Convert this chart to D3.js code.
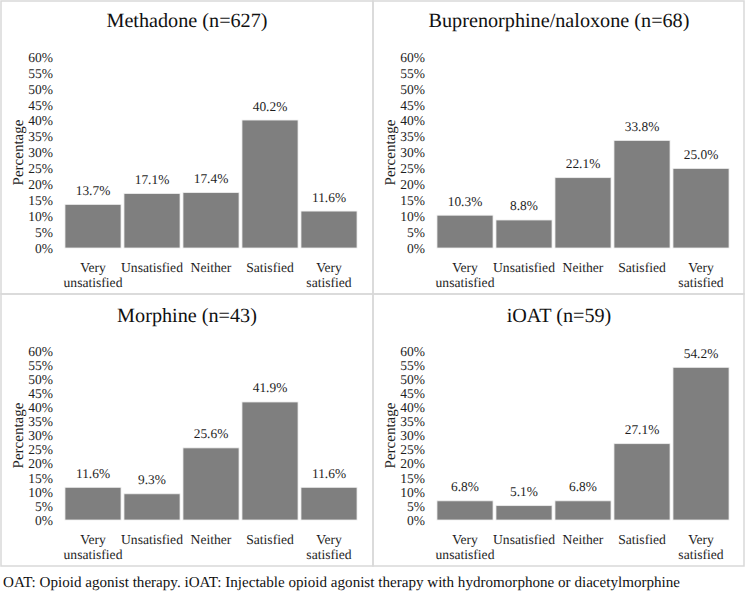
<!DOCTYPE html>
<html>
<head>
<meta charset="utf-8">
<script src="https://cdn.jsdelivr.net/npm/d3@7"></script>
<style>
  html, body { margin: 0; padding: 0; background: #fff; }
  svg { display: block; }
  svg text { text-rendering: geometricPrecision; }
</style>
</head>
<body>
<svg id="chart" width="747" height="591"></svg>
<script>
// ---- Data ----
const categories = ["Very unsatisfied", "Unsatisfied", "Neither", "Satisfied", "Very satisfied"];
const categoryLines = [["Very", "unsatisfied"], ["Unsatisfied"], ["Neither"], ["Satisfied"], ["Very", "satisfied"]];
const panelTitles = ["Methadone (n=627)", "Buprenorphine/naloxone (n=68)", "Morphine (n=43)", "iOAT (n=59)"];
const methadone = [13.7, 17.1, 17.4, 40.2, 11.6];
const buprenorphine = [10.3, 8.8, 22.1, 33.8, 25.0];
const morphine = [11.6, 9.3, 25.6, 41.9, 11.6];
const ioat = [6.8, 5.1, 6.8, 27.1, 54.2];
const yTicks = [0, 5, 10, 15, 20, 25, 30, 35, 40, 45, 50, 55, 60];
const yTitle = "Percentage";
const footnote = "OAT: Opioid agonist therapy. iOAT: Injectable opioid agonist therapy with hydromorphone or diacetylmorphine";

// ---- Layout ----
const FONT = '"Liberation Serif"';
const svg = d3.select("#chart");
const textColor = "#1e1e1e";
const barColor = "#7f7f7f";
const borderColor = "#d9d9d9";

const panels = [
  { title: panelTitles[0], values: methadone,     x: 1,   y: 1,   w: 372, h: 293, plotTop: 56, plotH: 191, titleY: 26 },
  { title: panelTitles[1], values: buprenorphine, x: 373, y: 1,   w: 371, h: 293, plotTop: 56, plotH: 191, titleY: 26 },
  { title: panelTitles[2], values: morphine,      x: 1,   y: 294, w: 372, h: 272, plotTop: 57, plotH: 169, titleY: 28 },
  { title: panelTitles[3], values: ioat,          x: 373, y: 294, w: 371, h: 272, plotTop: 57, plotH: 169, titleY: 28 }
];

panels.forEach(p => {
  const g = svg.append("g").attr("transform", `translate(${p.x},${p.y})`);

  g.append("rect")
    .attr("x", 0).attr("y", 0).attr("width", p.w).attr("height", p.h)
    .attr("fill", "none").attr("stroke", borderColor).attr("stroke-width", 1.5);

  g.append("text")
    .attr("x", 186).attr("y", p.titleY)
    .attr("text-anchor", "middle")
    .style("font-family", FONT).style("font-size", "20.2px").attr("fill", "#111")
    .text(p.title);

  const plotLeft = 62.5, plotW = 295;
  const plot = g.append("g").attr("transform", `translate(${plotLeft},${p.plotTop})`);

  const x = d3.scaleBand().domain(categories).range([0, plotW])
    .paddingInner(0.05).paddingOuter(0.025);
  const y = d3.scaleLinear().domain([0, 60]).range([p.plotH, 0]);

  const yAxis = d3.axisLeft(y).tickValues(yTicks).tickFormat(d => d + "%")
    .tickSize(0).tickPadding(10.5);
  const ya = plot.append("g").call(yAxis);
  ya.select(".domain").remove();
  ya.selectAll("text").style("font-family", FONT).style("font-size", "13.5px").attr("fill", textColor);

  plot.selectAll("rect.bar").data(p.values).join("rect")
    .attr("class", "bar")
    .attr("x", (d, i) => x(categories[i]))
    .attr("y", d => y(d))
    .attr("width", x.bandwidth())
    .attr("height", d => y(0) - y(d))
    .attr("fill", barColor)
    .attr("stroke", "#eeeeee").attr("stroke-width", 0.8);

  plot.selectAll("text.val").data(p.values).join("text")
    .attr("class", "val")
    .attr("x", (d, i) => x(categories[i]) + x.bandwidth() / 2)
    .attr("y", d => y(d) - 9.5)
    .attr("text-anchor", "middle")
    .style("font-family", FONT).style("font-size", "13.4px").attr("fill", textColor)
    .text(d => d.toFixed(1) + "%");

  categoryLines.forEach((lines, i) => {
    const t = plot.append("text")
      .attr("x", x(categories[i]) + x.bandwidth() / 2)
      .attr("y", p.plotH + 24)
      .attr("text-anchor", "middle")
      .style("font-family", FONT).style("font-size", "13.6px").attr("fill", textColor);
    lines.forEach((ln, j) => {
      t.append("tspan")
        .attr("x", x(categories[i]) + x.bandwidth() / 2)
        .attr("dy", j === 0 ? 0 : 15)
        .text(ln);
    });
  });

  g.append("text")
    .attr("transform", `translate(21.5,${p.plotTop + p.plotH / 2}) rotate(-90)`)
    .attr("text-anchor", "middle")
    .style("font-family", FONT).style("font-size", "15px").attr("fill", textColor)
    .text(yTitle);
});

svg.append("text")
  .attr("x", 3).attr("y", 587)
  .style("font-family", FONT).style("font-size", "15.1px").attr("fill", "#111")
  .text(footnote);
</script>
</body>
</html>
